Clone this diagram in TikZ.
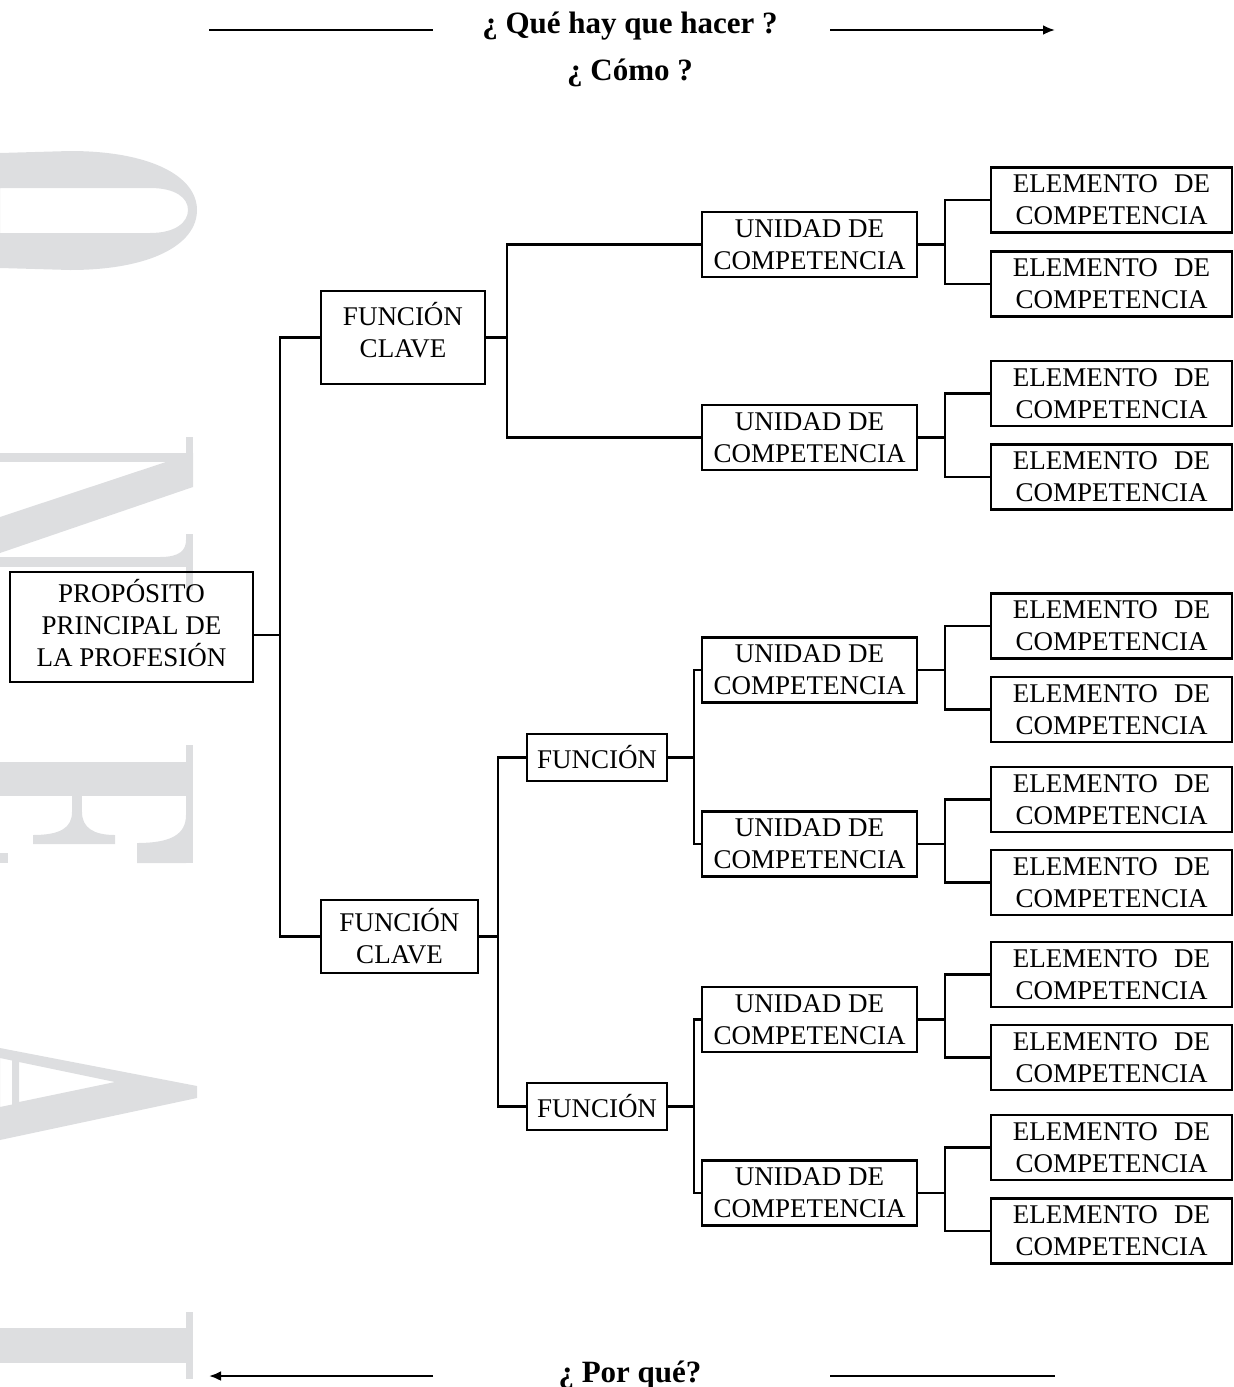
\documentclass[tikz,border=0pt]{standalone}
\usepackage{fontspec}
\setmainfont{Liberation Serif}
\usetikzlibrary{arrows.meta}
\definecolor{wmgray}{RGB}{221,222,224}

\begin{document}
\begin{tikzpicture}[x=0.5pt,y=-0.5pt,
  box/.style={draw, line width=1.25pt, align=center, inner sep=0pt,
    font=\fontsize{13.5}{16}\selectfont},
  pbox/.style={box, minimum width=121.5pt, minimum height=55pt},
  fcbox/.style={box, minimum height=36.5pt},
  fbox/.style={box, minimum width=70pt, minimum height=23.5pt},
  ubox/.style={box, minimum width=107.5pt, minimum height=32.5pt},
  ebox/.style={box, minimum width=120.5pt, minimum height=32.5pt},
  link/.style={line width=1.25pt},
  guide/.style={line width=1.4pt},
  tip/.style={-{Latex[length=6pt,width=5pt]}},
  head/.style={font=\fontsize{15.5}{18}\selectfont\bfseries, inner sep=0pt, anchor=base}
]
\useasboundingbox (0,0) rectangle (1233,1387);

% ---- background lettering, cut by the left edge ----
\begin{scope}[wmgray]
  % O
  \fill[even odd rule] (0,153) -- (70,151) .. controls (150,151) and (197,176) .. (197,210)
      .. controls (197,245) and (150,270) .. (70,270) -- (0,268) -- cycle
    (0,188) -- (150,188) .. controls (176,188) and (188,198) .. (188,210)
      .. controls (188,222) and (176,233) .. (150,233) -- (0,233) -- cycle;
  % N
  \fill (0,453) rectangle (186,462);
  \fill (186,437) rectangle (193,487);
  \fill (193,453) -- (193,487) -- (0,553) -- (0,517) -- cycle;
  \fill (0,557) rectangle (186,567);
  \fill (186,534) rectangle (193,590);
  \fill (160,557) .. controls (180,557) and (186,550) .. (186,540) -- (186,557) -- cycle;
  % E
  \fill (186,745) rectangle (193,863);
  \fill (0,762) rectangle (186,796);
  \fill (72,796) rectangle (82,835);
  \fill (72,812) .. controls (72,828) and (60,835) .. (33,835) -- (33,844) -- (115,844) -- (115,835)
      .. controls (94,835) and (82,828) .. (82,812) -- cycle;
  \fill (186,815) .. controls (186,835) and (170,843) .. (137,843) -- (137,863) -- (186,863) -- cycle;
  \fill (0,853) rectangle (8,863);
  % A
  \fill[even odd rule] (0,1048) -- (197,1086) -- (197,1098) -- (0,1140) -- cycle
    (19,1062) -- (115,1082) -- (19,1102) -- cycle
    (0,1058) -- (12,1060.5) -- (12,1104.5) -- (0,1107) -- cycle;
  % I
  \fill (186,1312) rectangle (193,1379);
  \fill (0,1328) rectangle (186,1363);
\end{scope}

% ---- top and bottom guides ----
\coordinate (tl1) at (209,30);  \coordinate (tl2) at (433,30);
\coordinate (tr1) at (830,30);  \coordinate (tr2) at (1055,30);
\coordinate (bl1) at (433,1376); \coordinate (bl2) at (209,1376);
\coordinate (br1) at (830,1376); \coordinate (br2) at (1055,1376);
\draw[guide] (tl1) -- (tl2);
\draw[guide,tip] (tr1) -- (tr2);
\draw[guide,tip] (bl1) -- (bl2);
\draw[guide] (br1) -- (br2);
\node[head] (q1) at (630,33) {¿ Qué hay que hacer ?};
\node[head] (q2) at (630,80) {¿ Cómo ?};
\node[head] (q3) at (630,1382) {¿ Por qué?};

% ---- boxes ----
\node[pbox, text depth=4pt] (P) at (131.5,627) {PROPÓSITO\\PRINCIPAL DE\\LA PROFESIÓN};

\node[fcbox, minimum width=82pt, minimum height=46.5pt, text depth=8pt] (FC1) at (403,337.5) {FUNCIÓN\\CLAVE};
\node[fcbox, minimum width=78.5pt] (FC2) at (399.5,936.5) {FUNCIÓN\\CLAVE};

\node[fbox] (F1) at (597,757.5) {FUNCIÓN};
\node[fbox] (F2) at (597,1106.5) {FUNCIÓN};

\foreach \n/\y in {U1/244.5, U2/437.5, U3/670, U4/844, U5/1019.5, U6/1193}
  \node[ubox] (\n) at (809.5,\y) {UNIDAD DE\\COMPETENCIA};

\foreach \n/\y in {E1/200, E2/284, E3/393.5, E4/477, E5/626, E6/709.5,
                   E7/799.5, E8/882.5, E9/974.5, E10/1057.5, E11/1147.5, E12/1231}
  \node[ebox] (\n) at (1111.5,\y) {ELEMENTO\hspace{0.6em}DE\\COMPETENCIA};

% ---- branch columns ----
\coordinate (jP) at (280,0);
\coordinate (jA) at (507,0);
\coordinate (jB) at (498,0);
\coordinate (jF) at (694,0);
\coordinate (jU) at (945,0);
\coordinate (Pout) at ([yshift=-4pt]P.east);

\draw[link] (Pout) -- (jP |- Pout) |- (FC1.west);
\draw[link] (jP |- Pout) |- (FC2.west);

\draw[link] (FC1.east) -- (jA |- FC1.east) |- (U1.west);
\draw[link] (jA |- FC1.east) |- (U2.west);

\draw[link] (FC2.east) -- (jB |- FC2.east) |- (F1.west);
\draw[link] (jB |- FC2.east) |- (F2.west);

\draw[link] (F1.east) -- (jF |- F1.east) |- (U3.west);
\draw[link] (jF |- F1.east) |- (U4.west);
\draw[link] (F2.east) -- (jF |- F2.east) |- (U5.west);
\draw[link] (jF |- F2.east) |- (U6.west);

\foreach \u/\a/\b in {U1/E1/E2, U2/E3/E4, U3/E5/E6, U4/E7/E8, U5/E9/E10, U6/E11/E12} {
  \draw[link] (\u.east) -- (jU |- \u.east) |- (\a.west);
  \draw[link] (jU |- \u.east) |- (\b.west);
}
\end{tikzpicture}
\end{document}
